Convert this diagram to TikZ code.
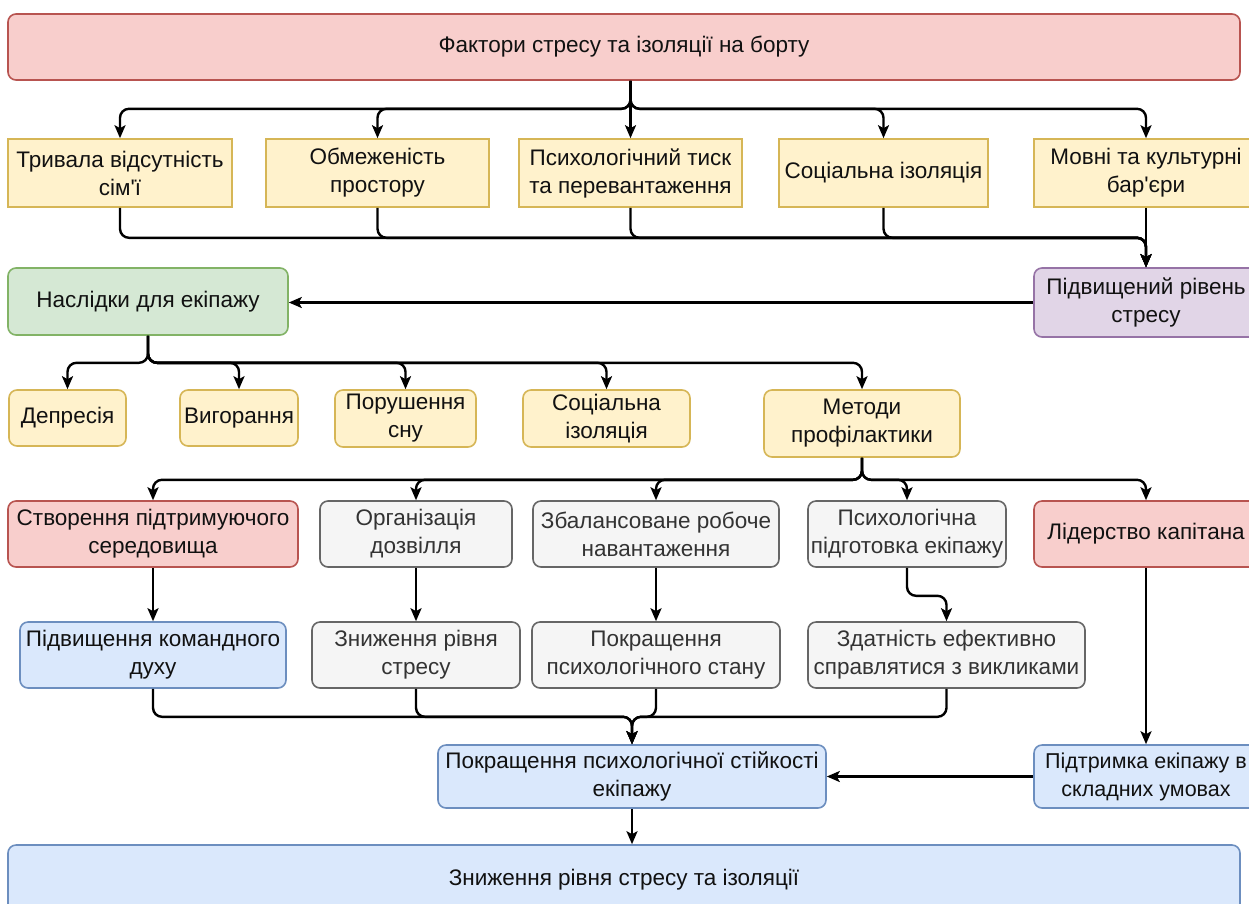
\documentclass[tikz,border=0pt]{standalone}
\usepackage{fontspec}
\newfontfamily\libsans{Liberation Sans}
\usetikzlibrary{arrows.meta}
\definecolor{redF}{HTML}{F8CECC}\definecolor{redD}{HTML}{B85450}
\definecolor{yelF}{HTML}{FFF2CC}\definecolor{yelD}{HTML}{D6B656}
\definecolor{grnF}{HTML}{D5E8D4}\definecolor{grnD}{HTML}{82B366}
\definecolor{purF}{HTML}{E1D5E7}\definecolor{purD}{HTML}{9673A6}
\definecolor{bluF}{HTML}{DAE8FC}\definecolor{bluD}{HTML}{6C8EBF}
\definecolor{gryF}{HTML}{F5F5F5}\definecolor{gryD}{HTML}{666666}\definecolor{gryT}{HTML}{333333}
\definecolor{txt}{HTML}{111111}
\begin{document}
\begin{tikzpicture}[x=1pt,y=-1pt,
  font=\libsans\fontsize{22.5}{28}\selectfont,
  base/.style={draw, line width=1.6pt, align=center, inner sep=0pt, text=txt},
  yelS/.style={base, fill=yelF, draw=yelD},
  yelR/.style={yelS, rounded corners=8pt},
  redR/.style={base, fill=redF, draw=redD, rounded corners=8pt},
  grnR/.style={base, fill=grnF, draw=grnD, rounded corners=8pt},
  purR/.style={base, fill=purF, draw=purD, rounded corners=8pt},
  bluR/.style={base, fill=bluF, draw=bluD, rounded corners=8pt},
  gryR/.style={base, fill=gryF, draw=gryD, rounded corners=8pt, text=gryT},
  arr/.style={line width=2.4pt, rounded corners=9pt, -{Stealth[length=13pt,width=11pt,inset=3pt]}}
]
\useasboundingbox (0,0) rectangle (1249,903);
\clip (0,0) rectangle (1249,903);
\fill[white] (0,0) rectangle (1249,903);

% top
\node[redR, minimum width=1232pt, minimum height=66pt] (top) at (624,47) {Фактори стресу та ізоляції на борту};

% row 1
\node[yelS, minimum width=224pt, minimum height=68pt] (b1) at (120,173) {Тривала відсутність\\сім'ї};
\node[yelS, minimum width=223pt, minimum height=68pt] (b2) at (377.5,173) {Обмеженість\\простору};
\node[yelS, minimum width=223pt, minimum height=68pt] (b3) at (630.5,173) {Психологічний тиск\\та перевантаження};
\node[yelS, minimum width=209pt, minimum height=68pt] (b4) at (883.5,173) {Соціальна ізоляція};
\node[yelS, minimum width=224pt, minimum height=68pt] (b5) at (1146,173) {Мовні та культурні\\бар'єри};

% stress / consequences
\node[purR, minimum width=224pt, minimum height=69pt] (pur) at (1146,302.5) {Підвищений рівень\\стресу};
\node[grnR, minimum width=280pt, minimum height=67pt] (gre) at (148,301.5) {Наслідки для екіпажу};

% row 2
\node[yelR, minimum width=117pt, minimum height=56pt] (dep) at (67.5,418) {Депресія};
\node[yelR, minimum width=118pt, minimum height=56pt] (vyh) at (239,418) {Вигорання};
\node[yelR, minimum width=141pt, minimum height=57pt] (por) at (405.5,418.5) {Порушення\\сну};
\node[yelR, minimum width=167pt, minimum height=57pt] (soc) at (606.5,418.5) {Соціальна\\ізоляція};
\node[yelR, minimum width=196pt, minimum height=67pt] (met) at (862,423.5) {Методи\\профілактики};

% row 3
\node[redR, minimum width=290pt, minimum height=66pt] (stv) at (153,534) {Створення підтримуючого\\середовища};
\node[gryR, minimum width=192pt, minimum height=66pt] (org) at (416,534) {Організація\\дозвілля};
\node[gryR, minimum width=246pt, minimum height=66pt] (zba) at (656,534) {Збалансоване робоче\\навантаження};
\node[gryR, minimum width=198pt, minimum height=66pt] (psy) at (907,534) {Психологічна\\підготовка екіпажу};
\node[redR, minimum width=224pt, minimum height=66pt] (lid) at (1146,534) {Лідерство капітана};

% row 4
\node[bluR, minimum width=266pt, minimum height=66pt] (pid) at (153,655) {Підвищення командного\\духу};
\node[gryR, minimum width=208pt, minimum height=66pt] (zny) at (416,655) {Зниження рівня\\стресу};
\node[gryR, minimum width=248pt, minimum height=66pt] (pok) at (656,655) {Покращення\\психологічного стану};
\node[gryR, minimum width=277pt, minimum height=66pt] (zdt) at (946.5,655) {Здатність ефективно\\справлятися з викликами};

% row 5
\node[bluR, minimum width=388pt, minimum height=63pt] (pst) at (632,776.5) {Покращення психологічної стійкості\\екіпажу};
\node[bluR, minimum width=224pt, minimum height=63pt, font=\libsans\fontsize{21.5}{28}\selectfont] (ptr) at (1146,776.5) {Підтримка екіпажу в\\складних умовах};

% bottom
\node[bluR, minimum width=1232pt, minimum height=70pt] (bot) at (624,880) {Зниження рівня стресу та ізоляції};

% connectors top -> row1
\foreach \n in {b1,b2,b4,b5}
  \draw[arr] (top.south -| b3.north) -- ++(0,28) -| (\n.north);
\draw[arr] (top.south -| b3.north) -- (b3.north);

% row1 -> purple
\foreach \n in {b1,b2,b3,b4}
  \draw[arr] (\n.south) -- ++(0,30) -| (pur.north);
\draw[arr] (b5.south) -- (pur.north);

% purple -> green
\draw[arr] (pur.west) -- (pur.west -| gre.east);

% green -> row2
\foreach \n in {dep,vyh,por,soc,met}
  \draw[arr] (gre.south) -- ++(0,27) -| (\n.north);

% methods -> row3
\foreach \n in {stv,org,zba,psy,lid}
  \draw[arr] (met.south) -- ++(0,22) -| (\n.north);

% row3 -> row4
\draw[arr] (stv.south) -- (pid.north);
\draw[arr] (org.south) -- (zny.north);
\draw[arr] (zba.south) -- (pok.north);
\draw[arr] (psy.south) -- ++(0,28) -| (zdt.north);
\draw[arr] (lid.south) -- (ptr.north);

% row4 -> pst
\foreach \n in {pid,zny,pok,zdt}
  \draw[arr] (\n.south) -- ++(0,28) -| (pst.north);

% ptr -> pst, pst -> bottom
\draw[arr] (ptr.west) -- (ptr.west -| pst.east);
\draw[arr] (pst.south) -- (pst.south |- bot.north);
\end{tikzpicture}
\end{document}
